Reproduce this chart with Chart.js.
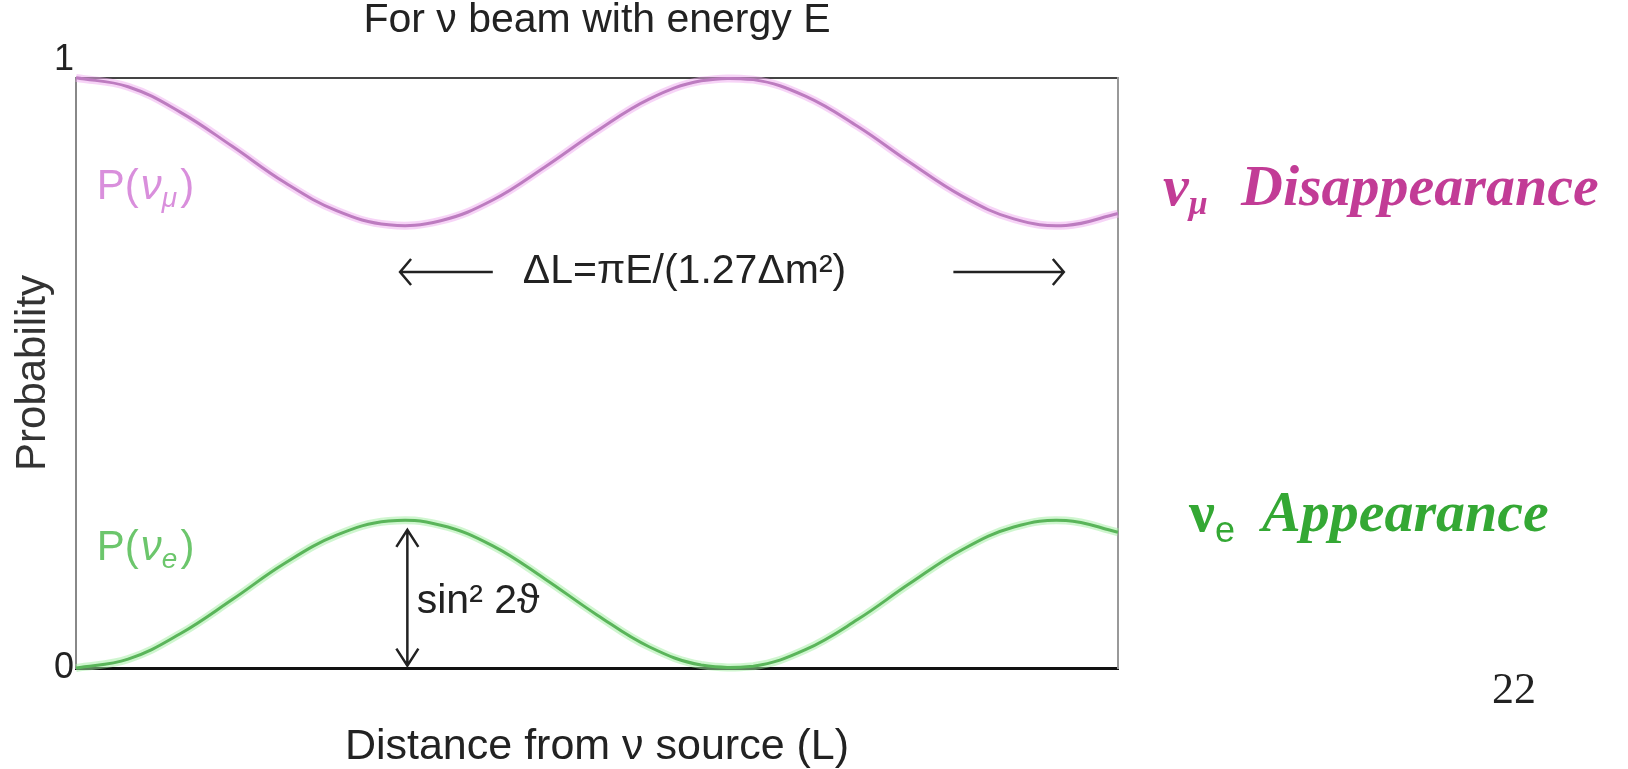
<!DOCTYPE html>
<html>
<head>
<meta charset="utf-8">
<script src="https://cdn.jsdelivr.net/npm/chart.js@4.4.1/dist/chart.umd.min.js"></script>
<style>
  html, body { margin: 0; padding: 0; background: #fff; }
  #wrap { width: 1628px; height: 769px; }
</style>
</head>
<body>
<div id="wrap"><canvas id="osc"></canvas></div>
<script>
// distance from the source, arbitrary units across the plot
const distance = [0, 5, 10, 15, 20, 25, 30, 35, 40, 45, 50, 55, 60, 65, 70, 75, 80, 85, 90, 95, 100];
// survival probability P(nu_mu)
const probMu = [1, 0.985, 0.942, 0.884, 0.823, 0.775, 0.751, 0.758, 0.793, 0.849, 0.91, 0.964, 0.995, 0.997, 0.969, 0.918, 0.857, 0.8, 0.761, 0.75, 0.77];
// appearance probability P(nu_e)
const probE = [0, 0.015, 0.058, 0.116, 0.177, 0.225, 0.249, 0.242, 0.207, 0.151, 0.09, 0.036, 0.005, 0.003, 0.031, 0.082, 0.143, 0.2, 0.239, 0.25, 0.23];
const yTicks = [0, 1];

const SANS = '"Liberation Sans", Arial, sans-serif';
const SERIF = '"Liberation Serif", "Times New Roman", serif';

const toPoints = vals => distance.map((d, i) => ({ x: d, y: vals[i] }));

// draws a run of text pieces one after another (for subscripts)
function drawRun(ctx, x, y, parts, color) {
    ctx.fillStyle = color;
    parts.forEach(p => {
        if (p.at !== undefined) x = p.at;
        ctx.font = p.font;
        ctx.fillText(p.t, x, y + (p.dy || 0));
        x += ctx.measureText(p.t).width + (p.gap || 0);
    });
}

function hArrow(ctx, x1, x2, y) {
    const dir = Math.sign(x2 - x1);
    ctx.beginPath();
    ctx.moveTo(x1, y);
    ctx.lineTo(x2, y);
    ctx.moveTo(x2 - dir * 11, y - 13);
    ctx.lineTo(x2, y);
    ctx.lineTo(x2 - dir * 11, y + 13);
    ctx.stroke();
}

function vArrow(ctx, x, y1, y2) {
    ctx.beginPath();
    ctx.moveTo(x, y1);
    ctx.lineTo(x, y2);
    ctx.moveTo(x - 11, y1 + 17);
    ctx.lineTo(x, y1);
    ctx.lineTo(x + 11, y1 + 17);
    ctx.moveTo(x - 11, y2 - 17);
    ctx.lineTo(x, y2);
    ctx.lineTo(x + 11, y2 - 17);
    ctx.stroke();
}

const notes = {
    id: 'notes',
    afterDatasetsDraw(chart) {
        const { ctx, chartArea: area, scales: { x, y } } = chart;
        const px = v => x.getPixelForValue(v);
        const py = v => y.getPixelForValue(v);
        ctx.save();
        ctx.textBaseline = 'middle';
        ctx.textAlign = 'left';

        drawRun(ctx, px(2), py(0.815), [
            { t: 'P(', font: '42px ' + SANS, gap: 2 },
            { t: 'ν', font: 'italic 42px ' + SANS },
            { t: 'μ', font: 'italic 28px ' + SANS, dy: 12, gap: 3 },
            { t: ')', font: '42px ' + SANS },
        ], '#d98fdc');
        drawRun(ctx, px(2), py(0.203), [
            { t: 'P(', font: '42px ' + SANS, gap: 2 },
            { t: 'ν', font: 'italic 42px ' + SANS },
            { t: 'e', font: 'italic 28px ' + SANS, dy: 12, gap: 3 },
            { t: ')', font: '42px ' + SANS },
        ], '#6cc66c');

        // oscillation length
        ctx.fillStyle = '#222';
        ctx.font = '41px ' + SANS;
        ctx.textAlign = 'center';
        ctx.fillText('ΔL=πE/(1.27Δm²)', px(58.4), py(0.671));
        ctx.strokeStyle = '#222';
        ctx.lineWidth = 2.5;
        hArrow(ctx, px(40), px(31.1), py(0.671));
        hArrow(ctx, px(84.2), px(94.8), py(0.671));

        // amplitude
        vArrow(ctx, px(31.8), py(0.234), py(0.004));
        ctx.textAlign = 'left';
        ctx.font = '41px ' + SANS;
        ctx.fillText('sin² 2ϑ', px(32.7), py(0.112));

        // labels right of the plot
        const r = area.right;
        drawRun(ctx, r + 45, py(0.81), [
            { t: 'ν', font: 'italic bold 58px ' + SERIF },
            { t: 'μ', font: 'italic bold 34px ' + SERIF, dy: 15 },
            { t: 'Disappearance', font: 'italic bold 58px ' + SERIF, at: r + 123 },
        ], '#c23c96');
        drawRun(ctx, r + 71, py(0.258), [
            { t: 'ν', font: 'bold 58px ' + SERIF },
            { t: 'e', font: '36px ' + SANS, dy: 16 },
            { t: 'Appearance', font: 'italic bold 58px ' + SERIF, at: r + 144 },
        ], '#34a834');

        ctx.textAlign = 'center';
        ctx.fillStyle = '#222';
        ctx.font = '44px ' + SERIF;
        ctx.fillText('22', r + 396, area.bottom + 23);
        ctx.restore();
    }
};

new Chart(document.getElementById('osc'), {
    type: 'line',
    data: {
        datasets: [
            {
                data: toPoints(probMu),
                borderColor: 'rgba(240, 170, 240, 0.5)',
                borderWidth: 8,
                order: 3,
            },
            {
                data: toPoints(probE),
                borderColor: 'rgba(160, 238, 160, 0.5)',
                borderWidth: 8,
                order: 3,
            },
            {
                label: 'P(νμ)',
                data: toPoints(probMu),
                borderColor: '#bd7cc0',
                borderWidth: 3,
                order: 1,
            },
            {
                label: 'P(νe)',
                data: toPoints(probE),
                borderColor: '#5ab55a',
                borderWidth: 3,
                order: 1,
            },
        ],
    },
    options: {
        responsive: true,
        maintainAspectRatio: false,
        animation: false,
        clip: false,
        elements: {
            point: { radius: 0 },
            line: { tension: 0.4, fill: false },
        },
        layout: { padding: { left: 0, right: 510, top: 0, bottom: 0 } },
        plugins: {
            legend: { display: false },
            tooltip: { enabled: false },
            title: {
                display: true,
                fullSize: false,
                text: 'For ν beam with energy E',
                color: '#222',
                font: { family: SANS, size: 41, weight: 'normal', lineHeight: 0.85 },
                padding: { top: 3, bottom: 40 },
            },
        },
        scales: {
            x: {
                type: 'linear',
                min: 0,
                max: 100,
                grid: { display: false, drawTicks: false },
                ticks: { display: false },
                border: { display: true, color: '#111', width: 3 },
                title: {
                    display: true,
                    text: 'Distance from ν source (L)',
                    color: '#222',
                    font: { family: SANS, size: 43, lineHeight: 1 },
                    padding: { top: 0, bottom: 0 },
                },
                afterFit(scale) { scale.height = 101; },
            },
            x2: {
                type: 'linear',
                position: 'top',
                min: 0,
                max: 100,
                grid: { display: false, drawTicks: false },
                ticks: { display: false },
                border: { display: true, color: '#444', width: 2 },
                afterFit(scale) { scale.height = 0; },
            },
            y: {
                min: 0,
                max: 1,
                afterBuildTicks(scale) { scale.ticks = yTicks.map(v => ({ value: v })); },
                grid: { display: false, drawTicks: false },
                border: { display: true, color: '#888', width: 2 },
                ticks: {
                    color: '#222',
                    padding: 2,
                    font: { family: SANS, size: 36, lineHeight: 1 },
                    // the top label sits just above its tick
                    callback: v => (v === 1 ? ['1', ''] : String(v)),
                },
                title: {
                    display: true,
                    text: 'Probability',
                    color: '#333',
                    font: { family: SANS, size: 42, lineHeight: 1 },
                    padding: { top: 12 },
                },
                afterFit(scale) { scale.width = 76; },
            },
            y2: {
                position: 'right',
                min: 0,
                max: 1,
                grid: { display: false, drawTicks: false },
                ticks: { display: false },
                border: { display: true, color: '#999', width: 2 },
                afterFit(scale) { scale.width = 0; },
            },
        },
    },
    plugins: [notes],
});
</script>
</body>
</html>
